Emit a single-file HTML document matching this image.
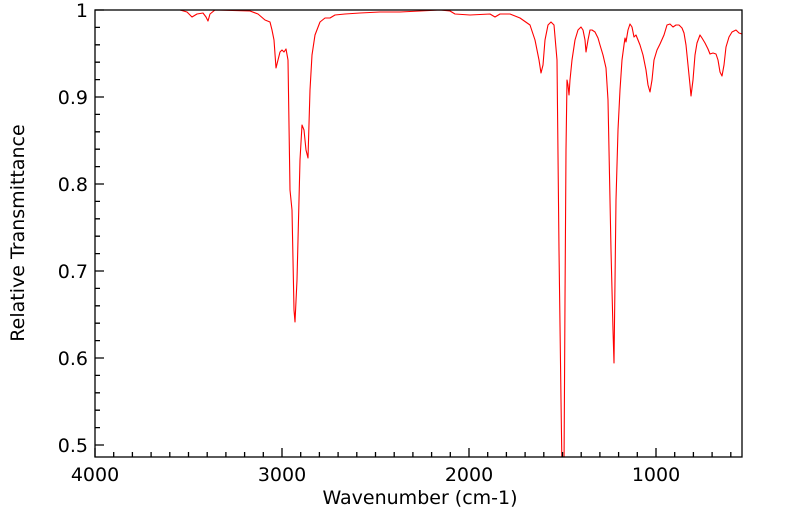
<!DOCTYPE html>
<html><head><style>
html,body{margin:0;padding:0;background:#fff;}
svg text{font-family:"DejaVu Sans","Liberation Sans",sans-serif;fill:#000;}
</style></head><body>
<svg width="799" height="516" viewBox="0 0 799 516" xmlns="http://www.w3.org/2000/svg">
<defs><clipPath id="c"><rect x="95" y="10" width="647" height="447"/></clipPath></defs>
<path clip-path="url(#c)" fill="none" stroke="#ff0000" stroke-width="1.1" stroke-linejoin="round" d="M95,10 L180,10 187,12 192,17 197,14 203,13 206,17 208,21 210,14 215,10 250,11 258,14 265,20 270,22 272,30 274,40 276,68 278,60 280,52 282,50 284,52 286,49 288,60 290,190 292,210 294,310 295,322 297,280 300,160 302,125 304,130 306,150 308,158 310,90 312,55 315,35 320,22 325,18 330,18 335,15 345,14 360,13 380,12 400,12 420,11 440,10 450,11 455,14 470,15 490,14 495,17 500,14 510,14 520,18 530,25 535,40 539,60 541,73 543,65 545,40 548,25 551,22 554,25 557,60 559,250 561,400 562,470 564,470 565,300 566,150 567,80 568,85 569,95 570,80 572,60 575,40 578,30 581,27 583,30 585,40 586,52 588,40 590,30 592,30 595,32 598,38 600,45 603,55 606,68 608,100 609,150 611,250 613,330 614,363 616,200 618,130 620,90 622,60 624,45 625,38 626,42 628,30 630,24 632,27 634,37 636,35 638,40 640,45 643,55 646,70 648,85 650,92 652,80 654,60 657,50 660,44 664,35 667,25 670,24 673,27 676,25 679,25 682,28 684,33 686,45 688,65 690,85 691,96 693,80 695,55 697,43 700,35 702,38 705,43 708,49 710,54 713,53 716,54 718,60 720,72 722,76 724,65 726,47 729,37 732,32 736,30 739,33 742,34"/>
<rect x="95" y="10" width="647" height="447" fill="none" stroke="#000" stroke-width="1.3"/>
<path stroke="#000" stroke-width="1.3" fill="none" d="
M95,457v-9 M113.7,457v-5 M132.4,457v-5 M151.1,457v-5 M169.8,457v-5 M188.5,457v-5 M207.2,457v-5 M225.9,457v-5 M244.6,457v-5 M263.3,457v-5
M282,457v-9 M300.7,457v-5 M319.4,457v-5 M338.1,457v-5 M356.8,457v-5 M375.5,457v-5 M394.2,457v-5 M412.9,457v-5 M431.6,457v-5 M450.3,457v-5
M469,457v-9 M487.7,457v-5 M506.4,457v-5 M525.1,457v-5 M543.8,457v-5 M562.5,457v-5 M581.2,457v-5 M599.9,457v-5 M618.6,457v-5 M637.3,457v-5
M656,457v-9 M674.7,457v-5 M693.4,457v-5 M712.1,457v-5 M730.8,457v-5
M95,10h9 M95,27.4h5 M95,44.8h5 M95,62.2h5 M95,79.6h5
M95,97h9 M95,114.4h5 M95,131.8h5 M95,149.2h5 M95,166.6h5
M95,184h9 M95,201.4h5 M95,218.8h5 M95,236.2h5 M95,253.6h5
M95,271h9 M95,288.4h5 M95,305.8h5 M95,323.2h5 M95,340.6h5
M95,358h9 M95,375.4h5 M95,392.8h5 M95,410.2h5 M95,427.6h5
M95,445h9"/>
<g font-size="19" text-anchor="end">
<text x="88" y="17">1</text>
<text x="88" y="104">0.9</text>
<text x="88" y="191">0.8</text>
<text x="88" y="278">0.7</text>
<text x="88" y="365">0.6</text>
<text x="88" y="452">0.5</text>
</g>
<g font-size="19" text-anchor="middle">
<text x="95" y="481">4000</text>
<text x="282" y="481">3000</text>
<text x="469" y="481">2000</text>
<text x="656" y="481">1000</text>
<text x="420" y="504">Wavenumber (cm-1)</text>
<text transform="translate(24,233) rotate(-90)">Relative Transmittance</text>
</g>
</svg>
</body></html>
